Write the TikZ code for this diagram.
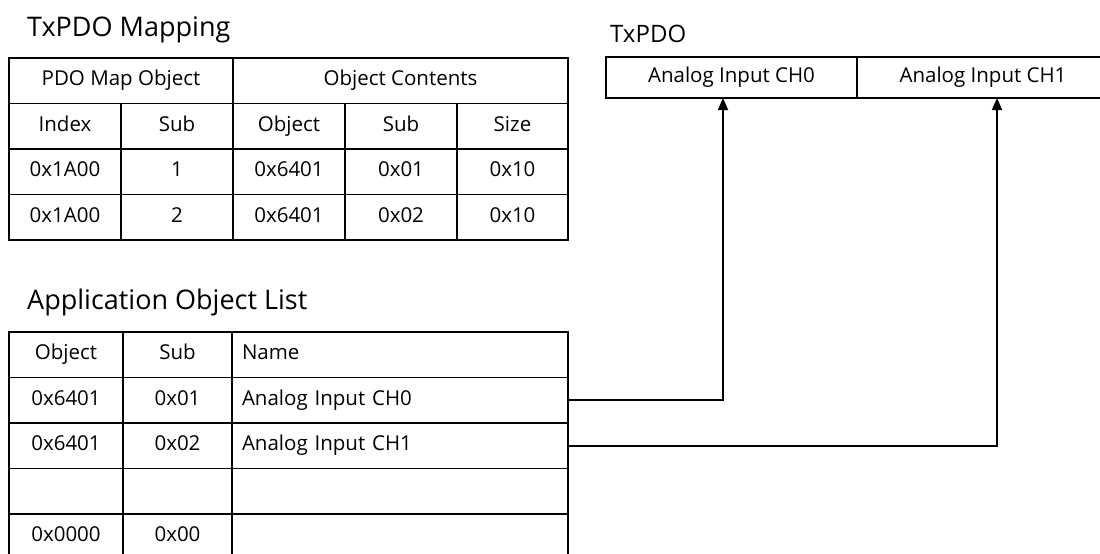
\documentclass[tikz,border=0pt]{standalone}
\usepackage{fontspec}
\setmainfont{Open Sans}
\usetikzlibrary{positioning,arrows.meta}
\tikzstyle{cell} = [rectangle,draw,line width=1.7pt,outer sep=0pt,inner sep=0pt,text centered,minimum height=45.5pt,text height=14.5pt,text depth=4.5pt,font=\fontsize{20.5}{24}\selectfont]
\tikzstyle{namecell} = [cell,text width=316pt,align=left,inner xsep=10pt]
\tikzstyle{heading} = [anchor=base west,inner sep=0pt,font=\fontsize{27}{32}\selectfont]
\tikzstyle{arrowline} = [line width=1.7pt,-{Triangle[length=12pt,width=10pt]}]

\begin{document}
\begin{tikzpicture}[x=1pt,y=-1pt]
    	\useasboundingbox (0,0) rectangle (1100,554);
    	\clip (0,0) rectangle (1100,554);
    	
    	\node[heading] (maptitle) at (27,36) {TxPDO Mapping};
    	
    	\node[cell,minimum width=224pt,anchor=north west] (pdomap) at (9,58) {PDO Map Object};
    	\node[cell,minimum width=335pt,right=0pt of pdomap] (contents) {Object Contents};
    	
    	\node[cell,minimum width=112pt,anchor=north west] (index) at (pdomap.south west) {Index};
    	\node[cell,minimum width=112pt,right=0pt of index] (sub) {Sub};
    	\node[cell,minimum width=112pt,right=0pt of sub] (object) {Object};
    	\node[cell,minimum width=112pt,right=0pt of object] (osub) {Sub};
    	\node[cell,minimum width=111pt,right=0pt of osub] (size) {Size};
    	
    	\node[cell,minimum width=112pt,below=0pt of index] (index1) {0x1A00};
    	\node[cell,minimum width=112pt,right=0pt of index1] (sub1) {1};
    	\node[cell,minimum width=112pt,right=0pt of sub1] (object1) {0x6401};
    	\node[cell,minimum width=112pt,right=0pt of object1] (osub1) {0x01};
    	\node[cell,minimum width=111pt,right=0pt of osub1] (size1) {0x10};
    	
    	\node[cell,minimum width=112pt,below=0pt of index1] (index2) {0x1A00};
    	\node[cell,minimum width=112pt,right=0pt of index2] (sub2) {2};
    	\node[cell,minimum width=112pt,right=0pt of sub2] (object2) {0x6401};
    	\node[cell,minimum width=112pt,right=0pt of object2] (osub2) {0x02};
    	\node[cell,minimum width=111pt,right=0pt of osub2] (size2) {0x10};
    	
    	
    	\node[heading] (listtitle) at (27,309) {Application Object List};
    	
    	\node[cell,minimum width=114pt,anchor=north west] (lobj) at (9,332) {Object};
    	\node[cell,minimum width=109pt,right=0pt of lobj] (lsub) {Sub};
    	\node[namecell,right=0pt of lsub] (lname) {Name};
    	
    	\node[cell,minimum width=114pt,below=0pt of lobj] (lobj1) {0x6401};
    	\node[cell,minimum width=109pt,right=0pt of lobj1] (lsub1) {0x01};
    	\node[namecell,right=0pt of lsub1] (lname1) {Analog Input CH0};
    	
    	\node[cell,minimum width=114pt,below=0pt of lobj1] (lobj2) {0x6401};
    	\node[cell,minimum width=109pt,right=0pt of lobj2] (lsub2) {0x02};
    	\node[namecell,right=0pt of lsub2] (lname2) {Analog Input CH1};
    	
    	\node[cell,minimum width=114pt,below=0pt of lobj2] (lobj3) {};
    	\node[cell,minimum width=109pt,right=0pt of lobj3] (lsub3) {};
    	\node[namecell,right=0pt of lsub3] (lname3) {};
    	
    	\node[cell,minimum width=114pt,below=0pt of lobj3] (lobj4) {0x0000};
    	\node[cell,minimum width=109pt,right=0pt of lobj4] (lsub4) {0x00};
    	\node[namecell,right=0pt of lsub4] (lname4) {};
    	
    	
    	\node[heading,font=\fontsize{24}{28}\selectfont] (txtitle) at (610,42) {TxPDO};
    	
    	\node[cell,minimum width=251pt,minimum height=41pt,anchor=north west] (ch0) at (606,57) {Analog Input CH0};
    	\node[cell,minimum width=252pt,minimum height=41pt,right=0pt of ch0] (ch1) {Analog Input CH1};
    	
    	\draw[arrowline] (lname1.east) -| ([xshift=-8.5pt]ch0.south);
    	\draw[arrowline] (lname2.east) -| ([xshift=14pt]ch1.south);
    	
\end{tikzpicture}
\end{document}
